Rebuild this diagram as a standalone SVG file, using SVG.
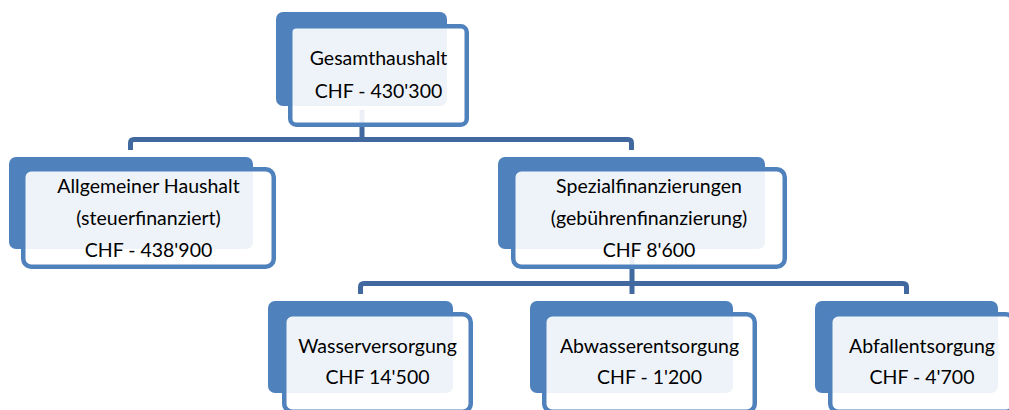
<svg xmlns="http://www.w3.org/2000/svg" width="1009" height="410" viewBox="0 0 1009 410">
<style>
.back{fill:#4F81BD;}
.front{fill:#FFFFFF;fill-opacity:0.9;stroke:#4F81BD;stroke-width:4.5;}
.conn{fill:none;stroke:#41699F;stroke-width:5;}
text{font-family:Lato,"Open Sans","Liberation Sans",sans-serif;font-size:19.5px;fill:#000;text-anchor:middle;}
</style>
<rect width="1009" height="410" fill="#FFFFFF"/>
<g id="connectors">
<path class="conn" d="M362,110 V139.5"/>
<path class="conn" d="M130.5,150 V143 q0,-3.5 3.5,-3.5 H628 q3.5,0 3.5,3.5 V150"/>
<path class="conn" d="M632,250 V294"/>
<path class="conn" d="M360.5,294 V287 q0,-3.5 3.5,-3.5 H903 q3.5,0 3.5,3.5 V294"/>
</g>
<g id="gesamthaushalt">
<rect class="back" x="276" y="12" width="171" height="94" rx="7"/>
<rect class="front" x="290.25" y="26.25" width="176.5" height="98.5" rx="6"/>
<text x="378.5" y="65">Gesamthaushalt</text>
<text x="378.5" y="98">CHF - 430'300</text>
</g>
<g id="allgemeiner-haushalt">
<rect class="back" x="9" y="157" width="244" height="92" rx="7"/>
<rect class="front" x="23.25" y="169.25" width="250.5" height="97.5" rx="8"/>
<text x="148.5" y="193">Allgemeiner Haushalt</text>
<text x="148.5" y="225">(steuerfinanziert)</text>
<text x="148.5" y="257">CHF - 438'900</text>
</g>
<g id="spezialfinanzierungen">
<rect class="back" x="498" y="157" width="267" height="92" rx="7"/>
<rect class="front" x="513.25" y="169.25" width="271.5" height="97.5" rx="8"/>
<text x="649" y="193">Spezialfinanzierungen</text>
<text x="649" y="225">(gebührenfinanzierung)</text>
<text x="649" y="257">CHF 8'600</text>
</g>
<g id="wasserversorgung">
<rect class="back" x="268" y="301" width="185" height="92" rx="7"/>
<rect class="front" x="284.25" y="314.25" width="186.5" height="97.5" rx="8"/>
<text x="377.5" y="353">Wasserversorgung</text>
<text x="377.5" y="384">CHF 14'500</text>
</g>
<g id="abwasserentsorgung">
<rect class="back" x="530" y="301" width="203" height="92" rx="7"/>
<rect class="front" x="544.25" y="314.25" width="210.5" height="97.5" rx="8"/>
<text x="649.5" y="353">Abwasserentsorgung</text>
<text x="649.5" y="384">CHF - 1'200</text>
</g>
<g id="abfallentsorgung">
<rect class="back" x="815" y="301" width="183" height="92" rx="7"/>
<rect class="front" x="830.25" y="314.25" width="183.5" height="97.5" rx="8"/>
<text x="922" y="353">Abfallentsorgung</text>
<text x="922" y="384">CHF - 4'700</text>
</g>
</svg>
